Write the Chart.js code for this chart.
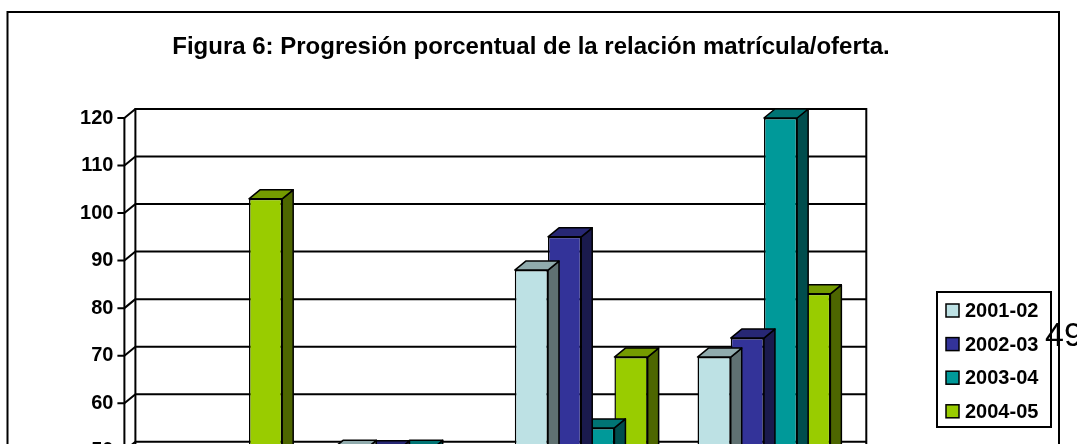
<!doctype html>
<html>
<head>
<meta charset="utf-8" />
<title>Figura 6: Progresión porcentual de la relación matrícula/oferta</title>
<script src="https://cdn.jsdelivr.net/npm/chart.js@4.4.1/dist/chart.umd.min.js"></script>
<style>
html, body { margin: 0; padding: 0; overflow: hidden; background: #fff; }
#wrap { position: relative; width: 1077px; height: 760px; }
</style>
</head>
<body>
<div id="wrap"><canvas id="chart"></canvas></div>
<script>
// data (the lower part of the chart is cut off in the reference)
const categories = ["Titulación 1", "Titulación 2", "Titulación 3", "Titulación 4"];
const seriesLabels = ["2001-02", "2002-03", "2003-04", "2004-05"];
const values200102 = [40, 50.3, 88, 69.7];
const values200203 = [44, 50.2, 95, 73.7];
const values200304 = [36, 50.3, 54.8, 120];
const values200405 = [103, 46, 69.7, 83];
const yMin = 0, yMax = 120, yStep = 10;

const titleText = "Figura 6: Progresión porcentual de la relación matrícula/oferta.";
const pageNumber = "49";

const seriesColors = ["#bde1e4", "#333399", "#009999", "#99cc00"];
const FONT = '"Liberation Sans", Arial, sans-serif';
const DX = 11, DY = 9; // depth of the 3d effect

function shade(hex, f) {
	const n = parseInt(hex.slice(1), 16);
	const r = Math.round(((n >> 16) & 255) * f);
	const g = Math.round(((n >> 8) & 255) * f);
	const b = Math.round((n & 255) * f);
	return "rgb(" + r + "," + g + "," + b + ")";
}

function poly(ctx, pts, fill) {
	ctx.beginPath();
	ctx.moveTo(pts[0][0], pts[0][1]);
	for (let i = 1; i < pts.length; i++) ctx.lineTo(pts[i][0], pts[i][1]);
	ctx.closePath();
	ctx.fillStyle = fill;
	ctx.fill();
	ctx.stroke();
}

const threeD = {
	id: "threeD",
	beforeDatasetsDraw(chart) {
		const { ctx, chartArea: a, scales: { y } } = chart;
		const top = y.getPixelForValue(yMax);
		ctx.save();
		ctx.strokeStyle = "#000";
		ctx.lineWidth = 2;
		y.ticks.forEach((t) => {
			const py = y.getPixelForValue(t.value);
			ctx.beginPath();
			ctx.moveTo(a.left + DX, py - DY);
			ctx.lineTo(a.right + DX, py - DY);
			ctx.moveTo(a.left, py);
			ctx.lineTo(a.left + DX, py - DY);
			ctx.moveTo(a.left - 7, py);
			ctx.lineTo(a.left, py);
			ctx.stroke();
		});
		ctx.beginPath();
		ctx.moveTo(a.left, a.bottom);
		ctx.lineTo(a.left, top);
		ctx.moveTo(a.left + DX, a.bottom - DY);
		ctx.lineTo(a.left + DX, top - DY);
		ctx.lineTo(a.right + DX, top - DY);
		ctx.lineTo(a.right + DX, a.bottom - DY);
		ctx.moveTo(a.left, a.bottom);
		ctx.lineTo(a.right, a.bottom);
		ctx.lineTo(a.right + DX, a.bottom - DY);
		ctx.stroke();
		ctx.restore();
	},
	beforeDatasetDraw(chart, args) {
		const { ctx } = chart;
		const color = seriesColors[args.index];
		ctx.save();
		ctx.strokeStyle = "#000";
		ctx.lineWidth = 1.5;
		ctx.lineJoin = "round";
		args.meta.data.forEach((bar) => {
			const { x, y, base, width } = bar.getProps(["x", "y", "base", "width"], true);
			const l = x - width / 2, r = x + width / 2;
			poly(ctx, [[r, y], [r + DX, y - DY], [r + DX, base - DY], [r, base]], shade(color, 0.5));
			poly(ctx, [[l, y], [l + DX, y - DY], [r + DX, y - DY], [r, y]], shade(color, 0.76));
		});
		ctx.restore();
	},
	afterDraw(chart) {
		const { ctx } = chart;
		ctx.save();
		// frame
		ctx.strokeStyle = "#000";
		ctx.lineWidth = 2;
		ctx.strokeRect(7.5, 12, 1051.5, 740);
		// title
		ctx.fillStyle = "#000";
		ctx.font = "bold 24px " + FONT;
		ctx.textAlign = "center";
		ctx.textBaseline = "alphabetic";
		ctx.fillText(titleText, 531, 54);
		// legend
		ctx.lineWidth = 2;
		ctx.strokeRect(937, 292, 114, 135);
		ctx.font = "bold 20px " + FONT;
		ctx.textAlign = "left";
		ctx.textBaseline = "middle";
		chart.data.datasets.forEach((ds, i) => {
			const cy = 310.5 + i * 33.6;
			ctx.fillStyle = ds.backgroundColor;
			ctx.fillRect(946, cy - 6.5, 13, 13);
			ctx.lineWidth = 1.5;
			ctx.strokeRect(946, cy - 6.5, 13, 13);
			ctx.fillStyle = "#000";
			ctx.fillText(ds.label, 965, cy + 1);
		});
		// page number of the source document
		ctx.font = "34px " + FONT;
		ctx.textBaseline = "alphabetic";
		ctx.fillText(pageNumber, 1045, 346);
		ctx.restore();
	},
};

const seriesValues = [values200102, values200203, values200304, values200405];

new Chart(document.getElementById("chart"), {
	type: "bar",
	data: {
		labels: categories,
		datasets: seriesLabels.map((label, i) => ({
			label: label,
			data: seriesValues[i],
			backgroundColor: seriesColors[i],
			borderColor: "#000",
			borderWidth: 1.5,
			borderSkipped: false,
			categoryPercentage: 0.727,
			barPercentage: 1,
		})),
	},
	options: {
		responsive: true,
		maintainAspectRatio: false,
		animation: false,
		devicePixelRatio: 1,
		layout: { padding: { left: 0, right: 221.7, top: 118, bottom: 31.6 } },
		plugins: {
			legend: { display: false },
			title: { display: false },
			tooltip: { enabled: false },
		},
		scales: {
			x: {
				grid: { display: false, drawTicks: false },
				border: { display: false },
				ticks: { color: "#000", font: { family: FONT, size: 20, weight: "bold" }, padding: 15 },
				afterFit: (s) => { s.height = 40; },
			},
			y: {
				min: yMin,
				max: yMax,
				grid: { display: false, drawTicks: false },
				border: { display: false },
				ticks: { stepSize: yStep, color: "#000", font: { family: FONT, size: 20, weight: "bold" }, padding: 11 },
				afterFit: (s) => { s.width = 124.4; },
			},
		},
	},
	plugins: [threeD],
});
</script>
</body>
</html>
